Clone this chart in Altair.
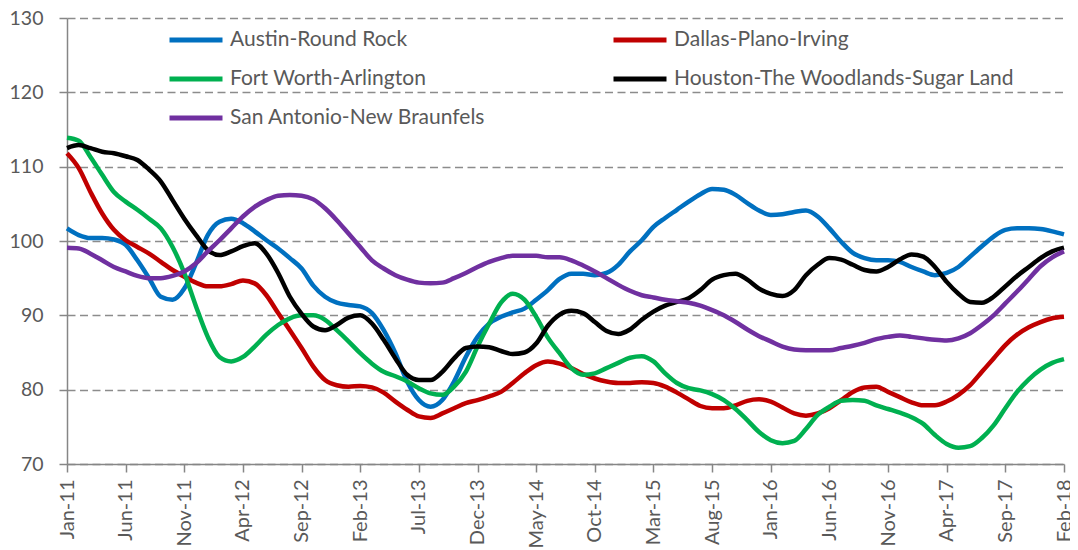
import altair as alt
import pandas as pd

MONTH_NAMES = ["Jan", "Feb", "Mar", "Apr", "May", "Jun",
               "Jul", "Aug", "Sep", "Oct", "Nov", "Dec"]
months = [f"{MONTH_NAMES[i % 12]}-{11 + i // 12}" for i in range(86)]

tick_labels = ["Jan-11", "Jun-11", "Nov-11", "Apr-12", "Sep-12", "Feb-13",
               "Jul-13", "Dec-13", "May-14", "Oct-14", "Mar-15", "Aug-15",
               "Jan-16", "Jun-16", "Nov-16", "Apr-17", "Sep-17", "Feb-18"]

series_names = ["Austin-Round Rock", "Dallas-Plano-Irving", "Fort Worth-Arlington",
                "Houston-The Woodlands-Sugar Land", "San Antonio-New Braunfels"]
series_colors = ["#0070C0", "#C00000", "#00B050", "#000000", "#7030A0"]

austin = [101.7, 100.8, 100.4, 100.4, 100.2, 99.5, 97.4, 95.0, 92.5, 92.1,
          93.6, 97.0, 100.8, 102.6, 103.0, 102.4, 101.3, 100.1, 99.0, 97.7,
          96.3, 94.0, 92.5, 91.7, 91.4, 91.2, 90.3, 88.0, 84.9, 81.1,
          78.6, 77.7, 78.6, 81.1, 84.4, 87.1, 88.9, 89.8, 90.4, 90.9,
          92.1, 93.4, 94.9, 95.6, 95.6, 95.4, 95.7, 96.8, 98.6, 100.1,
          101.9, 103.1, 104.2, 105.3, 106.3, 107.0, 106.9, 106.2, 105.1, 104.1,
          103.5, 103.6, 103.9, 104.1, 103.3, 101.7, 99.9, 98.4, 97.7, 97.4,
          97.4, 97.2, 96.5, 95.9, 95.4, 95.7, 96.5, 97.9, 99.3, 100.6,
          101.5, 101.7, 101.7, 101.6, 101.3, 100.9]

dallas = [111.8, 109.8, 106.6, 103.7, 101.5, 100.1, 99.2, 98.3, 97.2, 96.1,
          95.2, 94.4, 93.9, 93.9, 94.2, 94.7, 94.3, 92.7, 90.3, 88.0,
          85.6, 83.1, 81.3, 80.6, 80.4, 80.5, 80.3, 79.6, 78.4, 77.3,
          76.4, 76.2, 76.8, 77.5, 78.2, 78.6, 79.1, 79.7, 80.9, 82.2,
          83.3, 83.8, 83.5, 82.9, 82.1, 81.5, 81.1, 80.9, 80.9, 81.0,
          80.9, 80.4, 79.6, 78.7, 77.8, 77.5, 77.5, 77.9, 78.5, 78.7,
          78.4, 77.6, 76.8, 76.5, 76.8, 77.5, 78.6, 79.7, 80.3, 80.4,
          79.7, 79.0, 78.3, 77.9, 77.9, 78.4, 79.3, 80.6, 82.4, 84.2,
          86.0, 87.4, 88.4, 89.1, 89.6, 89.8]

fort_worth = [113.9, 113.5, 111.3, 108.9, 106.6, 105.3, 104.2, 103.0, 101.7, 99.2,
              95.7, 91.2, 87.1, 84.4, 83.8, 84.4, 85.8, 87.4, 88.7, 89.6,
              90.0, 90.0, 89.4, 88.0, 86.5, 84.9, 83.5, 82.4, 81.8, 81.1,
              80.2, 79.5, 79.3, 80.4, 82.4, 85.8, 88.9, 91.7, 92.9, 92.1,
              89.8, 87.0, 84.9, 82.9, 82.0, 82.2, 82.9, 83.6, 84.3, 84.5,
              83.8, 82.2, 80.9, 80.2, 79.9, 79.4, 78.6, 77.4, 75.9, 74.3,
              73.2, 72.8, 73.1, 74.7, 76.6, 77.7, 78.5, 78.6, 78.5, 77.9,
              77.4, 76.9, 76.3, 75.4, 73.9, 72.7, 72.2, 72.4, 73.5, 75.2,
              77.5, 79.7, 81.4, 82.7, 83.6, 84.1]

houston = [112.5, 112.9, 112.5, 112.0, 111.8, 111.4, 110.9, 109.6, 108.0, 105.5,
           103.0, 100.8, 98.8, 98.1, 98.6, 99.3, 99.7, 98.3, 95.7, 92.5,
           90.2, 88.5, 88.0, 88.7, 89.7, 90.0, 88.9, 86.7, 84.2, 82.0,
           81.3, 81.3, 82.4, 84.2, 85.6, 85.8, 85.7, 85.2, 84.8, 85.0,
           86.2, 88.6, 90.1, 90.6, 90.3, 89.1, 87.9, 87.5, 88.1, 89.4,
           90.5, 91.3, 91.8, 92.3, 93.4, 94.8, 95.4, 95.6, 94.8, 93.6,
           92.9, 92.6, 93.4, 95.4, 96.8, 97.7, 97.5, 96.8, 96.1, 95.9,
           96.5, 97.5, 98.2, 97.9, 96.5, 94.5, 92.9, 91.8, 91.7, 92.5,
           93.9, 95.3, 96.5, 97.7, 98.6, 99.1]

san_antonio = [99.1, 99.0, 98.3, 97.4, 96.5, 95.9, 95.3, 95.0, 95.0, 95.3,
               95.9, 97.0, 98.6, 100.1, 101.7, 103.3, 104.6, 105.5, 106.1, 106.2,
               106.1, 105.6, 104.4, 102.8, 101.0, 99.2, 97.4, 96.3, 95.4, 94.8,
               94.4, 94.3, 94.4, 95.0, 95.7, 96.5, 97.2, 97.7, 98.0, 98.0,
               98.0, 97.8, 97.8, 97.4, 96.7, 95.9, 95.0, 94.1, 93.3, 92.7,
               92.4, 92.1, 91.9, 91.7, 91.3, 90.7, 90.0, 89.1, 88.1, 87.2,
               86.5, 85.8, 85.4, 85.3, 85.3, 85.3, 85.6, 85.9, 86.3, 86.8,
               87.1, 87.3, 87.1, 86.9, 86.7, 86.6, 86.9, 87.6, 88.7, 90.0,
               91.6, 93.2, 94.9, 96.6, 97.8, 98.6]

y_ticks = [70, 80, 90, 100, 110, 120, 130]

rows = []
for name, vals in zip(series_names, [austin, dallas, fort_worth, houston, san_antonio]):
    for m, v in zip(months, vals):
        rows.append({"month": m, "series": name, "value": v})
df = pd.DataFrame(rows)

chart = alt.Chart(df).mark_line(strokeWidth=4.5, interpolate="monotone").encode(
    x=alt.X("month:O", sort=months,
            scale=alt.Scale(type="point", padding=0),
            axis=alt.Axis(values=tick_labels, labelAngle=-90, title=None,
                          tickSize=8, labelPadding=7, labelFontSize=20, grid=False)),
    y=alt.Y("value:Q",
            scale=alt.Scale(domain=[70, 130], nice=False, zero=False),
            axis=alt.Axis(values=y_ticks, title=None, tickSize=8, labelPadding=16,
                          labelFontSize=19.5,
                          grid=True, gridDash=[8, 4.5], gridColor="#8c8c8c",
                          gridWidth=1.5)),
    color=alt.Color("series:N", sort=series_names,
                    scale=alt.Scale(domain=series_names, range=series_colors),
                    legend=alt.Legend(title=None, orient="none", legendX=100, legendY=-7,
                                      columns=2, direction="horizontal",
                                      symbolType="stroke", symbolSize=2809,
                                      symbolStrokeWidth=5, labelFontSize=21,
                                      labelFont="Lato", labelColor="#595959",
                                      columnPadding=117, rowPadding=-3, labelLimit=600,
                                      padding=0, labelOffset=5)),
).properties(
    width=997, height=446,
    padding={"left": 59, "top": 10, "right": 6, "bottom": 84},
    autosize=alt.AutoSizeParams(type="none"),
    background="white",
).configure_view(stroke=None).configure_axis(
    domainColor="#868686", domainWidth=1.5, tickColor="#868686", tickWidth=1.5,
    labelColor="#595959", labelFont="Lato",
)

chart.save("out.html", embed_options={"renderer": "svg", "actions": False})
